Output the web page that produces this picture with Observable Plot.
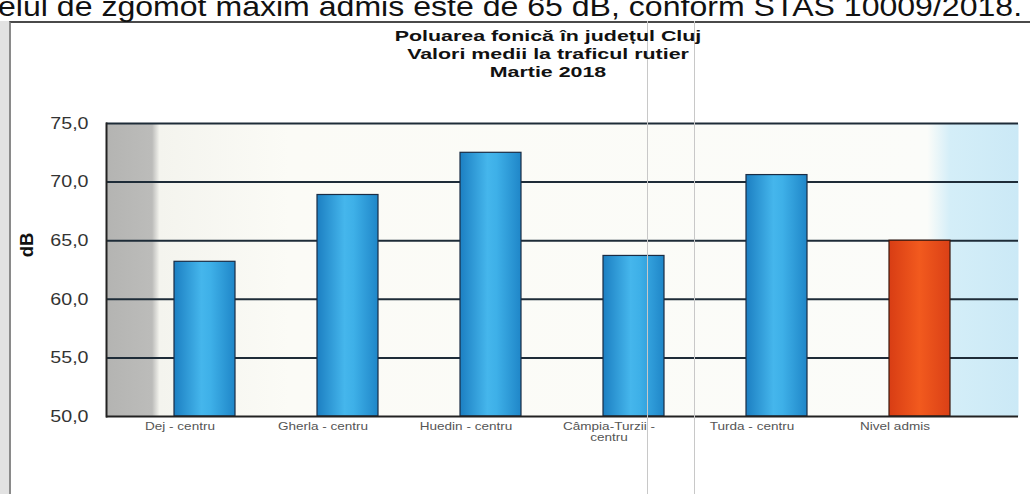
<!DOCTYPE html>
<html><head><meta charset="utf-8">
<script src="https://cdn.jsdelivr.net/npm/d3@7"></script>
<script src="https://cdn.jsdelivr.net/npm/@observablehq/plot@0.6"></script>
<style>
body{margin:0;background:#fff;font-family:"Liberation Sans",Arial,sans-serif;}
#wrap{position:relative;width:1030px;height:494px;overflow:hidden;background:#fff}
#chart{position:absolute;left:0;top:0}
#note{position:absolute;left:-2px;top:-7px;font-size:28px;line-height:1;white-space:nowrap;color:#111;transform:scaleX(1.145);transform-origin:0 0}
#box{position:absolute;left:9px;top:21px;width:1030px;height:480px;border-top:2px solid #4a4a4a;border-left:2px solid #8a8a8a}
#strip{position:absolute;left:0;top:21px;width:9px;height:480px;background:#e2e2e2}
.scan{position:absolute;top:21px;width:1px;height:480px;background:#c8c8c8}
#title{position:absolute;left:0;width:1096px;top:27px;text-align:center;font-weight:bold;font-size:15.5px;line-height:18px;color:#111}
#title div{transform:scaleX(1.38);transform-origin:50% 50%}
</style></head>
<body>
<div id="wrap">
  <div id="chart"></div>
  <div id="strip"></div>
  <div id="box"></div>
  <div class="scan" style="left:647px"></div>
  <div class="scan" style="left:694px"></div>
  <div id="note">elul de zgomot maxim admis este de 65 dB, conform STAS 10009/2018.</div>
  <div id="title"><div>Poluarea fonică în județul Cluj</div><div>Valori medii la traficul rutier</div><div>Martie 2018</div></div>
</div>
<script>
const categories = ["Dej - centru", "Gherla - centru", "Huedin - centru", "Câmpia-Turzii - centru", "Turda - centru", "Nivel admis"];
const values = [63.2, 68.9, 72.5, 63.7, 70.6, 65.0];
const kinds = ["masurat", "masurat", "masurat", "masurat", "masurat", "limita"];
const yTicks = [50, 55, 60, 65, 70, 75];
const yLabel = "dB";

const data = categories.map((c, i) => ({cat: c, val: values[i], kind: kinds[i]}));
const fmt = d => d3.format(".1f")(d).replace(".", ",");

function gradient(defs, id, stops) {
  const g = defs.append("linearGradient").attr("id", id).attr("x1", "0").attr("x2", "1").attr("y1", "0").attr("y2", "0");
  stops.forEach(([o, c]) => g.append("stop").attr("offset", o).attr("stop-color", c));
}
const defsMark = () => {
  const g = d3.create("svg:g");
  const defs = g.append("defs");
  gradient(defs, "gbg", [["0", "#b4b4b2"], ["0.05", "#bcbcba"], ["0.058", "#f4f4ee"], ["0.2", "#fbfbf6"], ["0.9", "#fbfcf9"], ["0.925", "#d4eef8"], ["1", "#cbe9f6"]]);
  gradient(defs, "gblue", [["0", "#1c7fc2"], ["0.45", "#45b6ec"], ["0.6", "#3eb0e8"], ["1", "#1f86c8"]]);
  gradient(defs, "gred", [["0", "#d83d14"], ["0.5", "#f25a1e"], ["1", "#da4016"]]);
  return g.node();
};

const chart = Plot.plot({
  width: 1030,
  height: 494,
  marginTop: 123,
  marginBottom: 78,
  marginLeft: 106,
  marginRight: 12,
  style: {fontFamily: "'Liberation Sans', Arial, sans-serif", background: "transparent"},
  x: {domain: categories, range: [131, 993], paddingInner: 0.57, paddingOuter: 0.285, axis: null},
  y: {domain: [50, 75], axis: null},
  marks: [
    defsMark,
    Plot.frame({fill: "url(#gbg)", stroke: "none"}),
    Plot.ruleY(yTicks.filter(v => v > 50), {stroke: "#1e2c38", strokeWidth: 2}),
    Plot.barY(data.filter(d => d.kind === "masurat"), {x: "cat", y1: 50, y2: "val", fill: "url(#gblue)", stroke: "#1a2c44", strokeWidth: 1.2}),
    Plot.barY(data.filter(d => d.kind === "limita"), {x: "cat", y1: 50, y2: "val", fill: "url(#gred)", stroke: "#3a1a10", strokeWidth: 1.2}),
    Plot.ruleY([50], {stroke: "#222", strokeWidth: 2}),
    Plot.frame({anchor: "left", stroke: "#222", strokeWidth: 2}),
    Plot.axisX({tickSize: 0, tickPadding: 6, dx: -25, fontSize: 11, fill: "#555",
      tickFormat: d => d.replace("Turzii - ", "Turzii -\n"), label: null}),
    Plot.axisY({ticks: yTicks, tickSize: 0, tickPadding: 18, fontSize: 16.5, fill: "#333",
      tickFormat: fmt, label: null}),
    Plot.axisY({ticks: [], label: yLabel, labelAnchor: "center", labelArrow: "none", labelOffset: 87,
      fontSize: 18.5, fontWeight: "bold", fill: "#111"})
  ]
});
const sel = d3.select(chart);
// widen the axis glyphs like the stretched scan
sel.selectAll('g[aria-label="x-axis tick label"] text').each(function() {
  this.setAttribute("transform", (this.getAttribute("transform") || "") + " scale(1.23,1)");
});
sel.selectAll('g[aria-label="y-axis tick label"] text').each(function() {
  this.setAttribute("transform", (this.getAttribute("transform") || "") + " scale(1.19,1)");
});
// the dB title sits a little above the middle of the axis
sel.selectAll('g[aria-label="y-axis label"] text').each(function() {
  this.setAttribute("transform", (this.getAttribute("transform") || "") + " translate(25,0)");
});
document.getElementById("chart").appendChild(chart);
</script>
</body></html>
